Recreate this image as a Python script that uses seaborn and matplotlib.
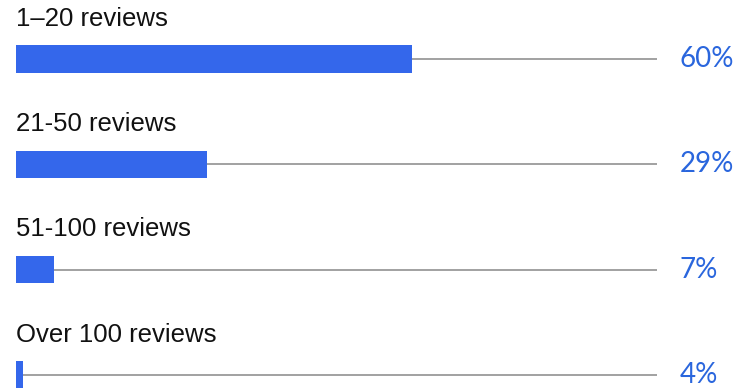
import matplotlib
matplotlib.use("Agg")
import matplotlib.pyplot as plt
import seaborn as sns
import pandas as pd

categories = ["1–20 reviews", "21-50 reviews", "51-100 reviews", "Over 100 reviews"]
bar_lengths = [60, 29, 5.8, 1.1]
pct_labels = ["60%", "29%", "7%", "4%"]

df = pd.DataFrame({"cat": categories, "val": bar_lengths})

sns.set_theme(style="white")
fig = plt.figure(figsize=(7.46, 3.88), dpi=100)
ax = fig.add_axes([0, 0, 1, 1])

px_per_unit = 6.6
ax.hlines(range(len(categories)), 0, 97.1, color="#9a9a9a", lw=1.3, zorder=1)
sns.barplot(data=df, x="val", y="cat", orient="h", color="#3467eb", saturation=1,
            width=0.26, linewidth=0, ax=ax, zorder=2)

for i, (c, p) in enumerate(zip(categories, pct_labels)):
    ax.text(0, i - 0.315, c, ha="left", va="baseline", fontsize=18.5,
            family=["Liberation Sans", "DejaVu Sans"], color="#111111")
    ax.text(100.6, i, p, ha="left", va="center", fontsize=20,
            family=["Lato", "DejaVu Sans"], color="#2a66dd")

ax.set_xlim(-16 / px_per_unit, (746 - 16) / px_per_unit)
ax.set_ylim((388 - 59) / 105.3, -59 / 105.3)
ax.axis("off")
fig.savefig("out.png", dpi=100)
